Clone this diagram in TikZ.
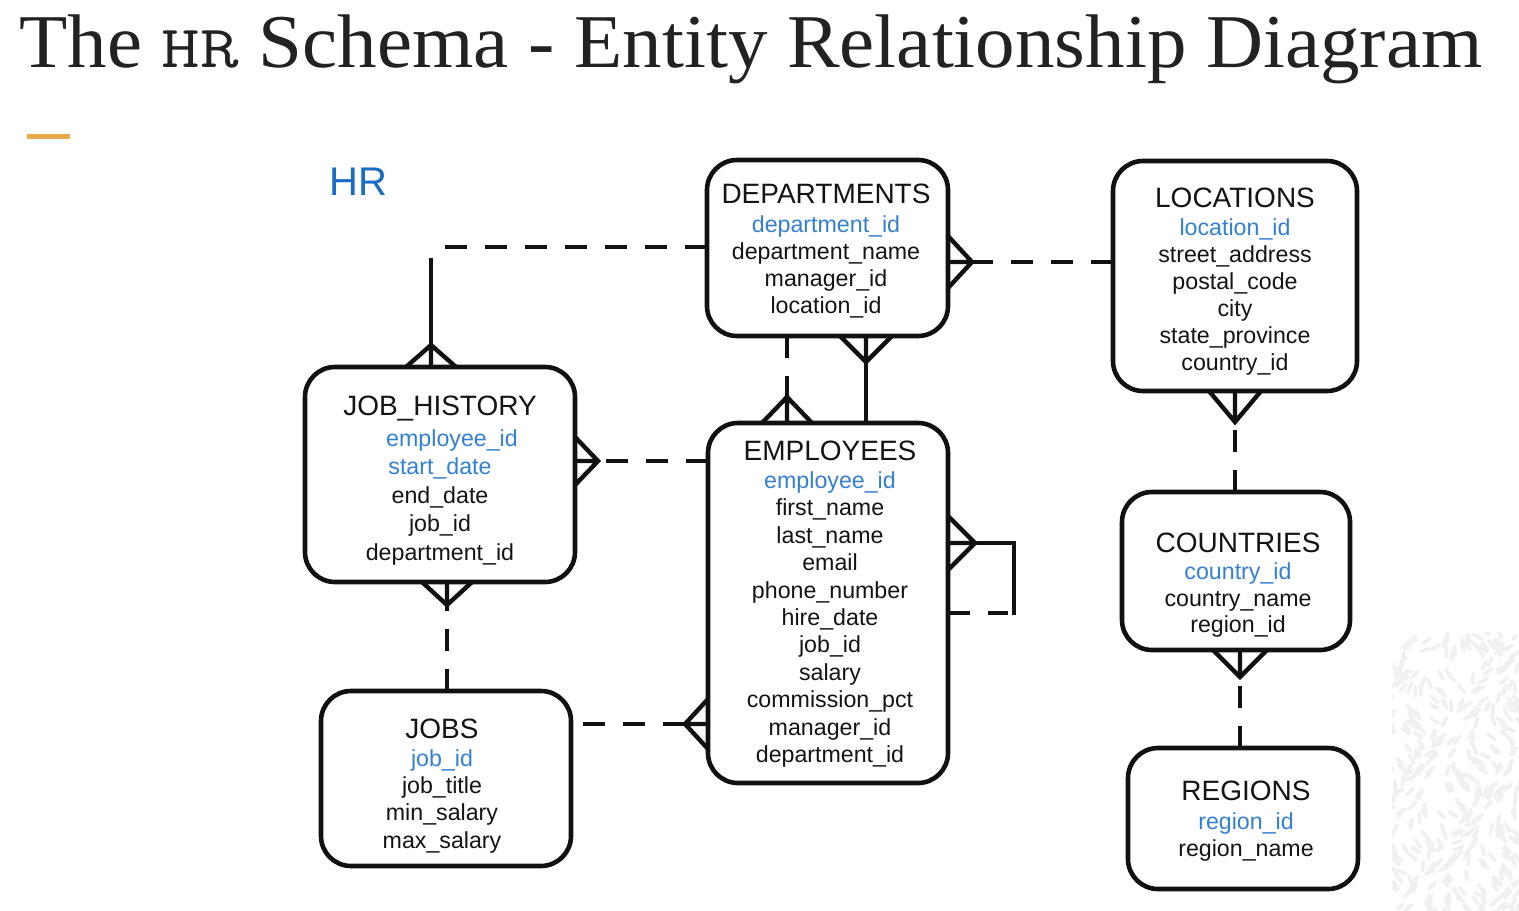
\documentclass[tikz,border=0pt]{standalone}
\usepackage{fontspec}
\setmainfont{Liberation Sans}
\newfontfamily\titleserif{Liberation Serif}
\usetikzlibrary{calc}

\definecolor{attrblue}{RGB}{52,128,212}
\definecolor{hrblue}{RGB}{24,108,196}
\definecolor{inkgray}{RGB}{34,34,34}
\definecolor{accent}{RGB}{233,170,78}
\definecolor{boxline}{RGB}{17,17,17}

% primary-key attribute
\newcommand\pk[1]{\textcolor{attrblue}{#1}}
% entity caption: [row spacing]{gap after header}{header}{attribute rows}
\newcommand\entitytext[4][13.6pt]{%
  \fontsize{11.6}{#1}\selectfont
  \begin{tabular}[t]{@{}c@{}}{\fontsize{14}{16}\selectfont #3}\\[#2]#4\end{tabular}}
% crow's foot: tip, point on the box edge, half spread of the prongs
\newcommand\crowfoot[3]{%
  \draw[rel] ($(#2)+(#3)$) -- (#1) -- ($(#2)-(#3)$) (#2) -- (#1);}

\tikzset{
  entity/.style={draw=boxline, line width=2.3pt, rounded corners=15pt,
    inner sep=0pt, outer sep=0pt, fill=white},
  etext/.style={anchor=base, inner sep=0pt, text=black!92},
  rel/.style={line width=2.2pt, draw=boxline},
  opt/.style={rel, dash pattern=on 11pt off 9pt},
  texture/.style={line width=1.8pt, line cap=round, draw=black!6},
}

\begin{document}
\begin{tikzpicture}[x=0.5pt, y=-0.5pt]
\useasboundingbox (0,0) rectangle (1519,910);

% speckled corner ornament
\begin{scope}
  \clip[rounded corners=20pt] (1392,632) rectangle (1540,930);
  \pgfmathsetseed{17}
  \foreach \i in {1,...,400}{
    \pgfmathsetmacro\xx{1388+rnd*135}
    \pgfmathsetmacro\yy{628+rnd*290}
    \pgfmathsetmacro\aa{70+55*sin(\xx*4+\yy*3)+rnd*40}
    \draw[texture] (\xx,\yy) -- ++(\aa:9);
  }
\end{scope}

% heading
\node[anchor=base west, inner sep=0pt, text=inkgray] (title) at (19,68)
  {\resizebox{731.5pt}{\height}{\fontsize{38}{44}\titleserif The
   \scalebox{1.2}[1]{\fontsize{30}{36}\ttfamily HR} Schema - Entity Relationship Diagram}};
\fill[accent] (27,134) rectangle (70,139);
\node[anchor=base west, inner sep=0pt, text=hrblue,
  font=\fontsize{20}{24}\selectfont] (hr) at (329,195) {HR};

% entity boxes
\node[entity, minimum width=120.5pt, minimum height=88pt]  (dept) at (827.5,248) {};
\node[entity, minimum width=122pt,   minimum height=115pt] (loc)  at (1235,276) {};
\node[entity, minimum width=135pt,   minimum height=107.5pt] (jh) at (440,474.5) {};
\node[entity, minimum width=120pt,   minimum height=180pt] (emp)  at (828,603) {};
\node[entity, minimum width=114pt,   minimum height=79pt]  (cty)  at (1236,571) {};
\node[entity, minimum width=125pt,   minimum height=87.5pt] (jobs) at (446,778.5) {};
\node[entity, minimum width=115pt,   minimum height=70.5pt] (reg)  at (1243,818.5) {};

% entity captions
\node[etext] (deptT) at (826,203) {\entitytext{1pt}{DEPARTMENTS}{%
  \pk{department\_id}\\department\_name\\manager\_id\\location\_id}};
\node[etext] (locT) at (1235,207) {\entitytext[13.5pt]{0.5pt}{LOCATIONS}{%
  \pk{location\_id}\\street\_address\\postal\_code\\city\\state\_province\\country\_id}};
\node[etext] (jhT) at (440,415) {\entitytext[14.25pt]{1.25pt}{JOB\_HISTORY}{%
  \hspace*{12pt}\pk{employee\_id}\\\pk{start\_date}\\end\_date\\job\_id\\department\_id}};
\node[etext] (empT) at (830,460) {\entitytext[13.7pt]{0.5pt}{EMPLOYEES}{%
  \pk{employee\_id}\\first\_name\\last\_name\\email\\phone\_number\\hire\_date\\%
  job\_id\\salary\\commission\_pct\\manager\_id\\department\_id}};
\node[etext] (ctyT) at (1238,552) {\entitytext[13.3pt]{0.5pt}{COUNTRIES}{%
  \pk{country\_id}\\country\_name\\region\_id}};
\node[etext] (jobsT) at (442,738) {\entitytext[13.65pt]{0.5pt}{JOBS}{%
  \pk{job\_id}\\job\_title\\min\_salary\\max\_salary}};
\node[etext] (regT) at (1246,800) {\entitytext[13.5pt]{1.4pt}{REGIONS}{%
  \pk{region\_id}\\region\_name}};

% crow's-foot tips and bend points
\coordinate (tA) at (972,262);
\coordinate (tB) at (1235,422);
\coordinate (tC) at (1240,677);
\coordinate (tD) at (431,345);
\coordinate (dTop) at (431,258);
\coordinate (dCorner) at (431,247);
\coordinate (tE) at (787,397);
\coordinate (tF) at (866,362);
\coordinate (tG) at (598,461);
\coordinate (tH) at (447,605);
\coordinate (tI) at (685,724);
\coordinate (tJ) at (975,543);
\coordinate (jR) at (1014,543);
\coordinate (jB) at (1014,615);
\coordinate (jEnd) at (1008,613);

% DEPARTMENTS - LOCATIONS
\crowfoot{tA}{dept.east|-tA}{0,26}
\draw[opt] (loc.west|-tA) -- (tA);
% LOCATIONS - COUNTRIES
\crowfoot{tB}{tB|-loc.south}{26,0}
\draw[opt] (tB|-cty.north) -- (tB);
% COUNTRIES - REGIONS
\crowfoot{tC}{tC|-cty.south}{27,0}
\draw[opt] (tC|-reg.north) -- (tC);
% JOB_HISTORY - DEPARTMENTS
\crowfoot{tD}{tD|-jh.north}{25,0}
\draw[rel] (tD) -- (dTop);
\draw[opt] (dept.west|-dCorner) -- (dCorner);
% DEPARTMENTS - EMPLOYEES (department members)
\crowfoot{tE}{tE|-emp.north}{25,0}
\draw[opt] (tE|-dept.south) -- (tE);
% DEPARTMENTS - EMPLOYEES (department manager)
\crowfoot{tF}{tF|-dept.south}{26,0}
\draw[rel] (tF) -- (tF|-emp.north);
% JOB_HISTORY - EMPLOYEES
\crowfoot{tG}{jh.east|-tG}{0,24}
\draw[opt] (emp.west|-tG) -- (tG);
% JOB_HISTORY - JOBS
\crowfoot{tH}{tH|-jh.south}{25,0}
\draw[opt] (tH|-jobs.north) -- (tH);
% JOBS - EMPLOYEES
\crowfoot{tI}{emp.west|-tI}{0,25}
\draw[opt] (tI) -- (jobs.east|-tI);
% EMPLOYEES - EMPLOYEES (manager)
\crowfoot{tJ}{emp.east|-tJ}{0,27}
\draw[rel] (tJ) -- (jR) -- (jB);
\draw[opt] (emp.east|-jEnd) -- (jEnd);
\end{tikzpicture}
\end{document}
